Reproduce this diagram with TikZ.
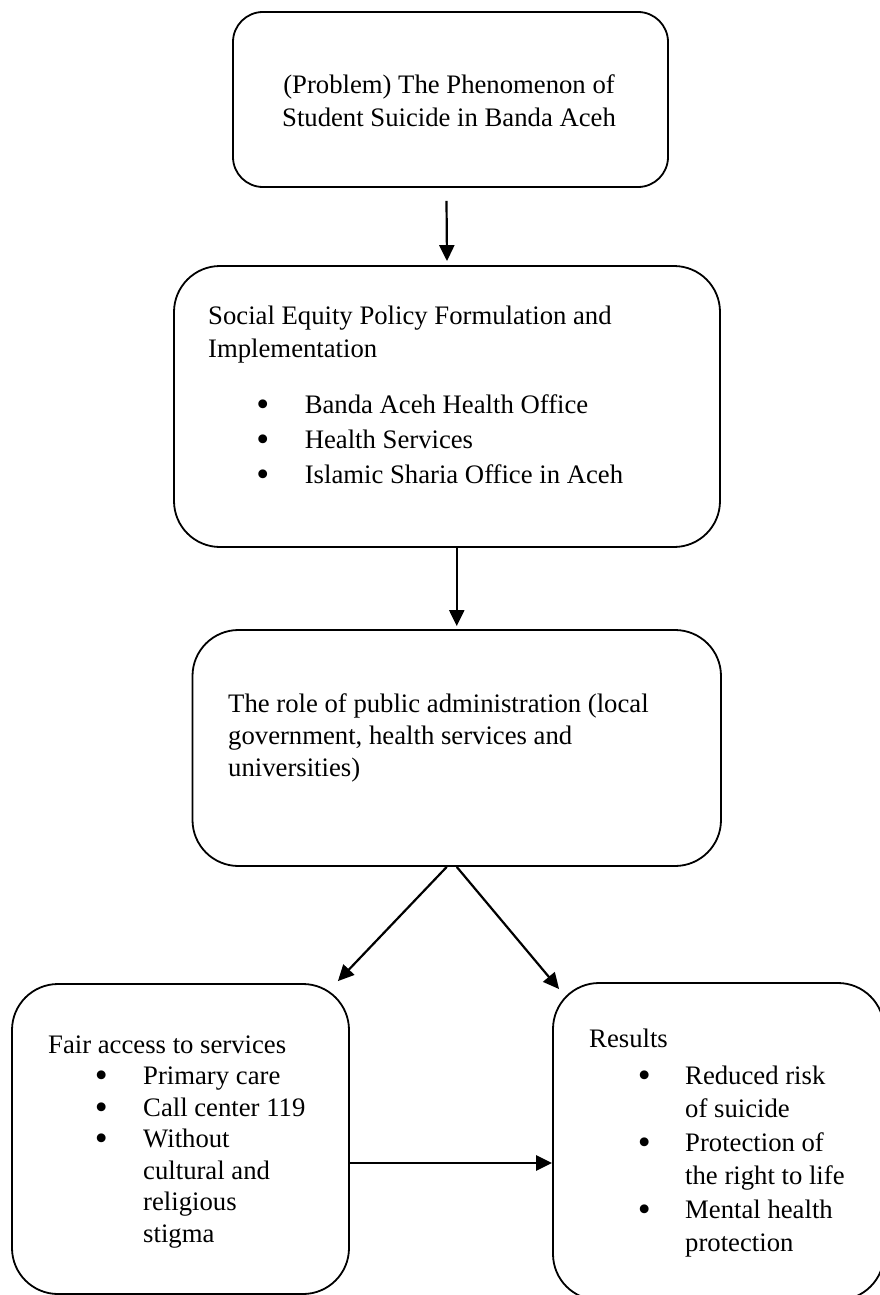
\documentclass[tikz,border=0pt]{standalone}
\usepackage{graphicx}
\usepackage{fontspec}
\setmainfont{Liberation Serif}
\usetikzlibrary{arrows.meta,calc}
\newcommand\bulitem[2]{\makebox[#2][l]{\hspace*{#1}\smash{\raisebox{-3pt}{\scalebox{1.38}{\textbullet}}}}}
\begin{document}
\begin{tikzpicture}[x=1pt,y=-1pt,
  box/.style={draw, line width=1.8pt, rounded corners=46pt, inner sep=0pt},
  txt/.style={inner sep=0pt, align=flush left, text width=520pt},
  arr/.style={-{Triangle[length=16pt,width=15pt]}, line width=2.2pt}]
\clip (0,0) rectangle (880,1295);
% boxes
\node[box, rounded corners=30pt, minimum width=435pt, minimum height=175pt] (b1) at (450.5,99.5) {};
\node[box, minimum width=546pt, minimum height=281pt] (b2) at (447,406.5) {};
\node[box, minimum width=528.5pt, minimum height=236pt] (b3) at (456.75,748) {};
\node[box, minimum width=337pt, minimum height=310pt] (b4) at (180.5,1139) {};
\node[box, minimum width=331pt, minimum height=317pt] (b5) at (718.5,1141.5) {};
% texts
\node[txt, align=flush center, text width=420pt, anchor=base, font=\fontsize{26.7}{33}\selectfont] (t1) at (449,94)
  {(Problem) The Phenomenon of\\Student Suicide in Banda Aceh};
\node[txt, anchor=base west, font=\fontsize{26.7}{33}\selectfont] (t2) at (208,324)
  {Social Equity Policy Formulation and\\Implementation\\[23pt]
   \bulitem{48.2pt}{96.6pt}Banda Aceh Health Office\\[2pt]
   \bulitem{48.2pt}{96.6pt}Health Services\\[2pt]
   \bulitem{48.2pt}{96.6pt}Islamic Sharia Office in Aceh};
\node[txt, anchor=base west, font=\fontsize{26.7}{32}\selectfont] (t3) at (228,712)
  {The role of public administration (local\\government, health services and\\universities)};
\node[txt, anchor=base west, text width=300pt, font=\fontsize{26.7}{31.5}\selectfont] (t4) at (48,1053)
  {Fair access to services\\
   \bulitem{46.7pt}{95pt}Primary care\\
   \bulitem{46.7pt}{95pt}Call center 119\\
   \bulitem{46.7pt}{95pt}Without\\
   \hspace*{95pt}cultural and\\
   \hspace*{95pt}religious\\
   \hspace*{95pt}stigma};
\node[txt, anchor=base west, text width=300pt, font=\fontsize{26.7}{33.5}\selectfont] (t5) at (589,1047)
  {Results\\[3.5pt]
   \bulitem{48.7pt}{96pt}Reduced risk\\
   \hspace*{96pt}of suicide\\
   \bulitem{48.7pt}{96pt}Protection of\\
   \hspace*{96pt}the right to life\\
   \bulitem{48.7pt}{96pt}Mental health\\
   \hspace*{96pt}protection};
% connectors
\draw[arr] ([xshift=-4pt,yshift=-13pt]b1.south) -- ([yshift=4pt]b2.north);
\draw[arr] (b2.south -| b3.north) -- ([yshift=3pt]b3.north);
\draw[arr] ([xshift=-10pt]b3.south) -- ([xshift=-12pt,yshift=2pt]b4.north east);
\draw[arr] (b3.south) -- ([xshift=7pt,yshift=-7pt]b5.north west);
\draw[arr, line width=2.8pt] ([yshift=-24pt]b4.east) -- ([yshift=-24pt]b4.east -| b5.west);
\end{tikzpicture}
\end{document}
